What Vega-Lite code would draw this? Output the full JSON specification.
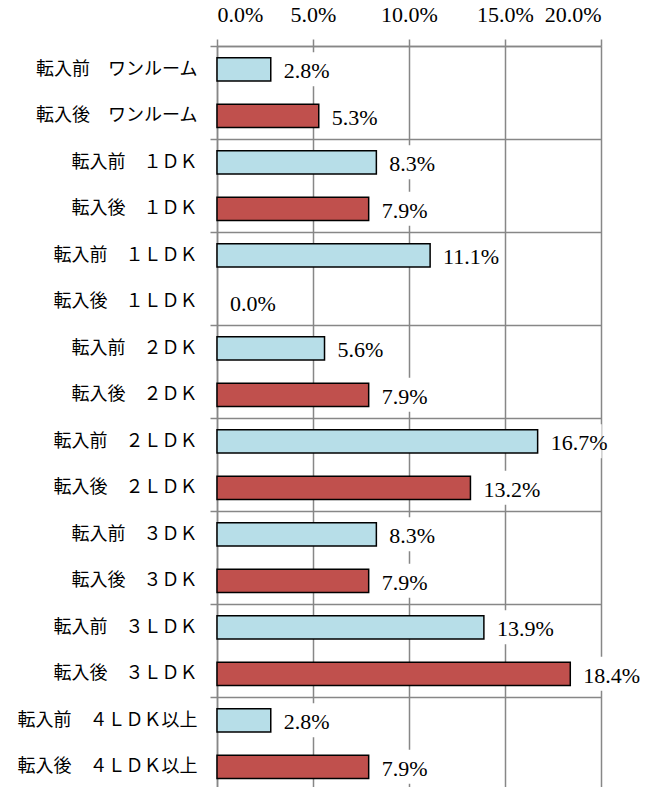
{
  "$schema": "https://vega.github.io/schema/vega-lite/v6.json",
  "autosize": "none",
  "padding": {"left": 217, "top": 46, "right": 48, "bottom": 0},
  "width": 384,
  "height": 744,
  "background": "white",
  "config": {"view": {"stroke": null}},
  "data": {
    "values": [
      {"label": "転入前　ワンルーム", "period": "転入前", "value": 0.028},
      {"label": "転入後　ワンルーム", "period": "転入後", "value": 0.053},
      {"label": "転入前　１ＤＫ", "period": "転入前", "value": 0.083},
      {"label": "転入後　１ＤＫ", "period": "転入後", "value": 0.079},
      {"label": "転入前　１ＬＤＫ", "period": "転入前", "value": 0.111},
      {"label": "転入後　１ＬＤＫ", "period": "転入後", "value": 0.0},
      {"label": "転入前　２ＤＫ", "period": "転入前", "value": 0.056},
      {"label": "転入後　２ＤＫ", "period": "転入後", "value": 0.079},
      {"label": "転入前　２ＬＤＫ", "period": "転入前", "value": 0.167},
      {"label": "転入後　２ＬＤＫ", "period": "転入後", "value": 0.132},
      {"label": "転入前　３ＤＫ", "period": "転入前", "value": 0.083},
      {"label": "転入後　３ＤＫ", "period": "転入後", "value": 0.079},
      {"label": "転入前　３ＬＤＫ", "period": "転入前", "value": 0.139},
      {"label": "転入後　３ＬＤＫ", "period": "転入後", "value": 0.184},
      {"label": "転入前　４ＬＤＫ以上", "period": "転入前", "value": 0.028},
      {"label": "転入後　４ＬＤＫ以上", "period": "転入後", "value": 0.079}
    ]
  },
  "encoding": {
    "y": {
      "field": "label",
      "type": "nominal",
      "sort": null,
      "scale": {"paddingInner": 0, "paddingOuter": 0},
      "axis": {
        "title": null,
        "tickBand": "extent",
        "grid": true,
        "gridColor": {"condition": {"test": "datum.extra || indexof(datum.value, '転入後') == 0", "value": "#878787"}, "value": "transparent"},
        "tickColor": {"condition": {"test": "datum.extra || indexof(datum.value, '転入後') == 0", "value": "#878787"}, "value": "transparent"},
        "gridWidth": 1.5,
        "tickWidth": 1.5,
        "tickSize": 7,
        "domainColor": "#878787",
        "domainWidth": 1.5,
        "labelFont": "Noto Sans CJK JP",
        "labelFontSize": 18,
        "labelColor": "black",
        "labelPadding": 13
      }
    },
    "x": {
      "field": "value",
      "type": "quantitative",
      "scale": {"domain": [0, 0.2], "nice": false},
      "axis": {
        "orient": "top",
        "title": null,
        "values": [0, 0.05, 0.1, 0.15, 0.2],
        "format": ".1%",
        "grid": true,
        "gridColor": "#878787",
        "gridWidth": 1.5,
        "domainColor": "#878787",
        "domainWidth": 1.5,
        "tickColor": "#878787",
        "tickWidth": 1.5,
        "tickSize": 7,
        "labelFont": "Liberation Serif",
        "labelFontSize": 22,
        "labelColor": "black",
        "labelPadding": 13
      }
    }
  },
  "layer": [
    {
      "mark": {"type": "bar", "strokeWidth": 1.5, "height": {"band": 0.5}},
      "encoding": {
        "color": {
          "field": "period",
          "type": "nominal",
          "scale": {"domain": ["転入前", "転入後"], "range": ["#B7DEE8", "#C0504D"]},
          "legend": null
        },
        "stroke": {"condition": {"test": "datum.value > 0", "value": "black"}, "value": "transparent"}
      }
    },
    {
      "mark": {"type": "bar", "fill": "white", "height": 34, "xOffset": 8, "x2Offset": 64},
      "encoding": {"x2": {"field": "value"}}
    },
    {
      "mark": {"type": "text", "align": "left", "baseline": "middle", "dx": 13, "dy": 2, "font": "Liberation Serif", "fontSize": 22, "color": "black"},
      "encoding": {"text": {"field": "value", "type": "quantitative", "format": ".1%"}}
    }
  ]
}
